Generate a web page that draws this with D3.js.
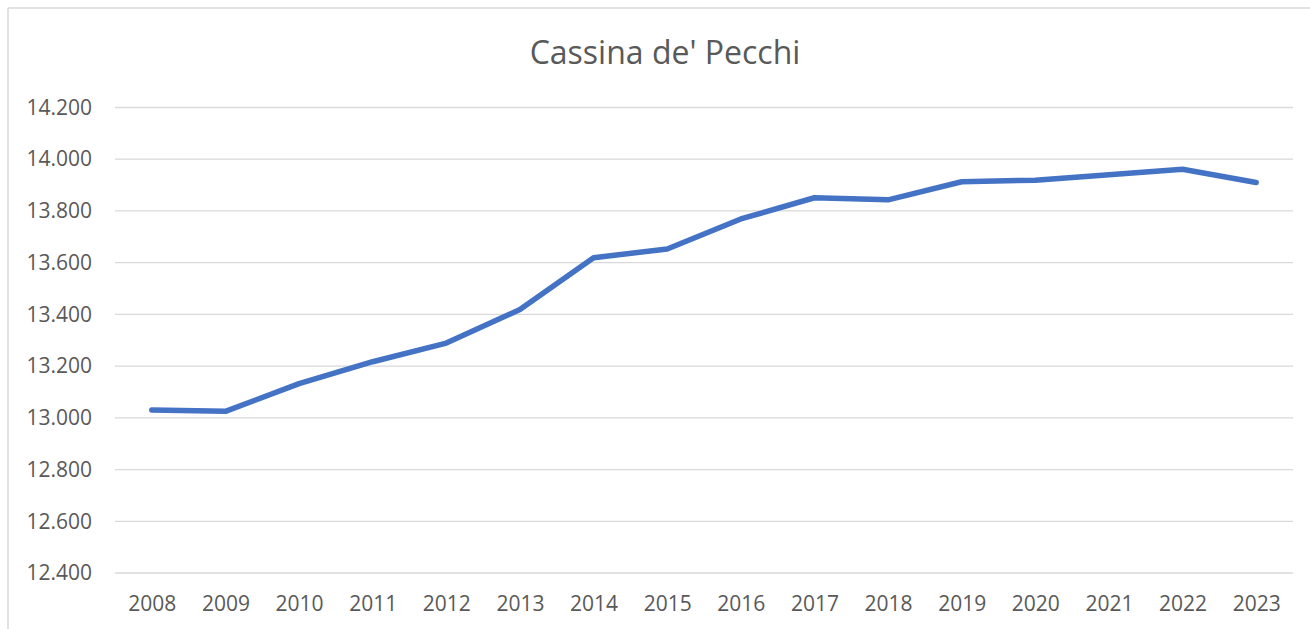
<!DOCTYPE html>
<html>
<head>
<meta charset="utf-8">
<script src="https://cdn.jsdelivr.net/npm/d3@7"></script>
<style>
  body { margin: 0; background: #fff; }
  svg { display: block; }
</style>
</head>
<body>
<script>
var width = 1310;
var height = 629;

var title = "Cassina de' Pecchi";
var years = ["2008", "2009", "2010", "2011", "2012", "2013", "2014", "2015",
             "2016", "2017", "2018", "2019", "2020", "2021", "2022", "2023"];
var population = [13030, 13025, 13132, 13217, 13289, 13419, 13619, 13653,
                  13769, 13851, 13843, 13913, 13919, 13940, 13961, 13910];
var yTicks = [12400, 12600, 12800, 13000, 13200, 13400, 13600, 13800, 14000, 14200];

var svg = d3.select("body").append("svg")
    .attr("width", width)
    .attr("height", height);

// chart frame (only top and left edges show in the picture)
svg.append("line")
    .attr("x1", 8).attr("y1", 8).attr("x2", width).attr("y2", 8)
    .attr("stroke", "#d9d9d9").attr("stroke-width", 1.5);
svg.append("line")
    .attr("x1", 8).attr("y1", 8).attr("x2", 8).attr("y2", height)
    .attr("stroke", "#d9d9d9").attr("stroke-width", 1.5);

var plotLeft = 115;
var plotRight = 1293;

var xScale = d3.scalePoint()
    .domain(years)
    .range([plotLeft, plotRight])
    .padding(0.5);

var yScale = d3.scaleLinear()
    .domain([12400, 14200])
    .range([573, 107.5]);

// gridlines
svg.append("g")
    .selectAll("line")
    .data(yTicks)
    .enter()
    .append("line")
    .attr("x1", plotLeft)
    .attr("x2", plotRight)
    .attr("y1", function(d) { return yScale(d); })
    .attr("y2", function(d) { return yScale(d); })
    .attr("stroke", "#d9d9d9")
    .attr("stroke-width", 1.3);

var fmt = function(d) {
    return d3.format(",")(d).replace(/,/g, ".");
};

// y axis labels
var yAxis = d3.axisLeft(yScale)
    .tickValues(yTicks)
    .tickFormat(fmt)
    .tickSize(0)
    .tickPadding(0);

var gy = svg.append("g")
    .attr("transform", "translate(92,0)")
    .call(yAxis);
gy.select(".domain").remove();
gy.selectAll("text")
    .attr("font-family", "'Open Sans', sans-serif")
    .attr("font-size", "21px")
    .attr("fill", "#595959");

// x axis labels
var xAxis = d3.axisBottom(xScale)
    .tickSize(0)
    .tickPadding(0);

var gx = svg.append("g")
    .attr("transform", "translate(0,596)")
    .call(xAxis);
gx.select(".domain").remove();
gx.selectAll("text")
    .attr("font-family", "'Open Sans', sans-serif")
    .attr("font-size", "21px")
    .attr("fill", "#595959");

// line
var line = d3.line()
    .x(function(d, i) { return xScale(years[i]); })
    .y(function(d) { return yScale(d); });

svg.append("path")
    .datum(population)
    .attr("d", line)
    .attr("fill", "none")
    .attr("stroke", "#4472c4")
    .attr("stroke-width", 5.5)
    .attr("stroke-linejoin", "round")
    .attr("stroke-linecap", "round");

// title
svg.append("text")
    .attr("x", 665)
    .attr("y", 64)
    .attr("text-anchor", "middle")
    .attr("font-family", "'Open Sans', sans-serif")
    .attr("font-size", "32px")
    .attr("fill", "#595959")
    .text(title);
</script>
</body>
</html>
